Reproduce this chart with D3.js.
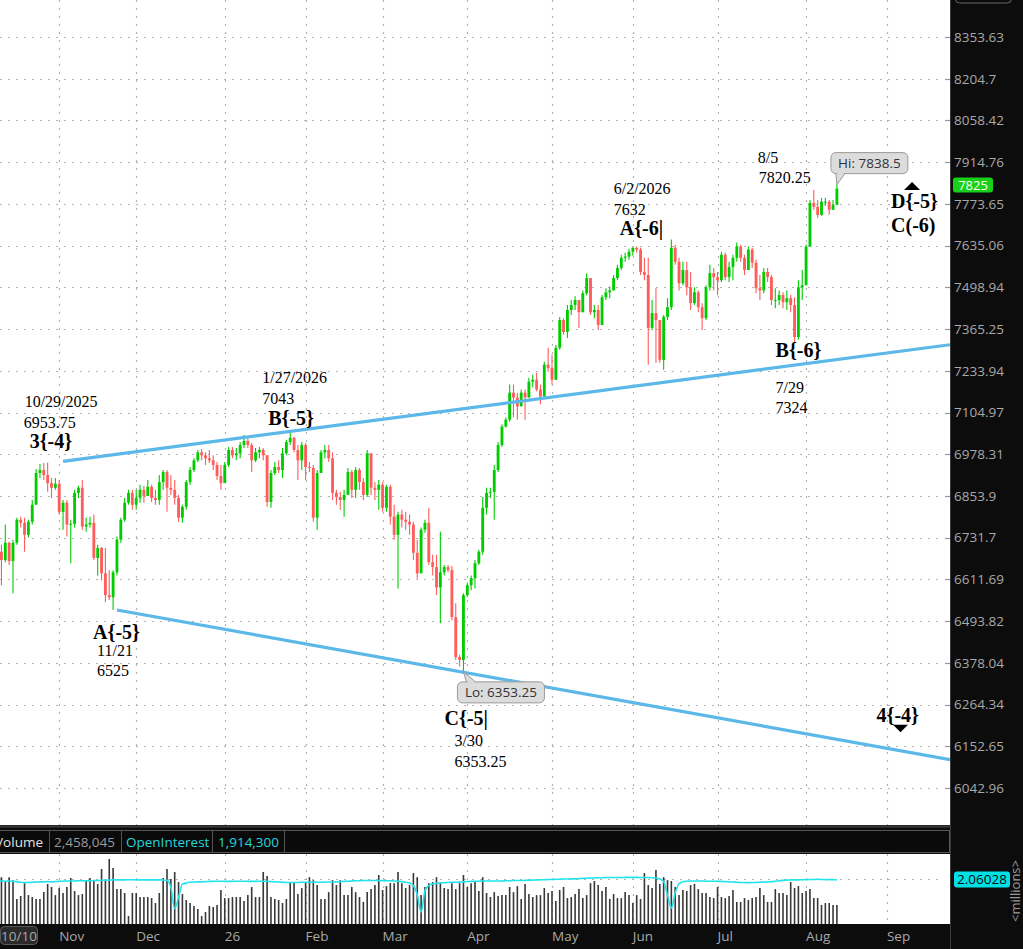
<!DOCTYPE html>
<html>
<head>
<meta charset="utf-8">
<script src="https://cdn.jsdelivr.net/npm/d3@7"></script>
<style>
  html, body { margin: 0; padding: 0; background: #0c0c0c; overflow: hidden; }
  svg { display: block; }
</style>
</head>
<body>
<svg id="chart"></svg>
<script>
const width = 1023;
const height = 949;

// ---- data -------------------------------------------------------------
const firstDay = "2025-10-10";
const lastAxisDay = "2026-09-23";
const closedDays = ["2026-01-01"];

const opens = [
  6632, 6691, 6667, 6717, 6664, 6717, 6784, 6775, 6740, 6778,
  6828, 6922, 6931, 6916, 6892, 6878, 6890, 6807, 6834, 6770,
  6772, 6863, 6878, 6764, 6770, 6775, 6673, 6702, 6629, 6567,
  6561, 6632, 6726, 6784, 6834, 6863, 6828, 6848, 6872, 6854,
  6881, 6848, 6842, 6895, 6925, 6878, 6872, 6848, 6790, 6822,
  6895, 6931, 6960, 6984, 6975, 6966, 6960, 6946, 6913, 6892,
  6946, 6991, 6975, 6981, 7006, 7018, 7006, 6960, 6984, 6991,
  6975, 6836, 6922, 6940, 6931, 6981, 7015, 7028, 6991, 6960,
  7006, 6940, 6937, 6790, 6922, 6984, 6991, 6966, 6863, 6851,
  6842, 6857, 6925, 6872, 6931, 6895, 6857, 6981, 6878, 6872,
  6887, 6819, 6881, 6793, 6740, 6799, 6784, 6778, 6770, 6688,
  6629, 6755, 6775, 6661, 6647, 6589, 6632, 6647, 6638, 6505,
  6394, 6386, 6567, 6595, 6615, 6658, 6691, 6819, 6863, 6866,
  6931, 7006, 7062, 7083, 7166, 7151, 7124, 7166, 7151, 7200,
  7206, 7176, 7154, 7253, 7243, 7206, 7306, 7394, 7356, 7426,
  7442, 7458, 7419, 7480, 7529, 7419, 7426, 7378, 7467, 7483,
  7489, 7529, 7562, 7595, 7599, 7615, 7628, 7622, 7549, 7539,
  7369, 7416, 7394, 7268, 7404, 7435, 7628, 7582, 7512, 7555,
  7499, 7448, 7483, 7435, 7400, 7499, 7545, 7532, 7522, 7605,
  7532, 7565, 7595, 7632, 7595, 7555, 7622, 7579, 7496, 7489,
  7549, 7532, 7458, 7458, 7474, 7451, 7464, 7442, 7340, 7499,
  7506, 7632, 7777, 7764, 7737, 7781, 7781, 7754, 7770
];
const highs = [
  6702, 6711, 6770, 6720, 6726, 6790, 6793, 6790, 6784, 6842,
  6934, 6949, 6952, 6953.75, 6907, 6907, 6901, 6842, 6842, 6784,
  6872, 6884, 6901, 6790, 6793, 6799, 6711, 6705, 6702, 6638,
  6638, 6735, 6790, 6848, 6872, 6872, 6872, 6887, 6884, 6901,
  6887, 6872, 6916, 6931, 6931, 6916, 6901, 6857, 6828, 6901,
  6940, 6966, 6991, 6994, 6984, 6991, 6975, 6955, 6946, 6955,
  7000, 7000, 6997, 7015, 7037, 7031, 7012, 6997, 7000, 6997,
  6975, 6931, 6955, 6960, 6997, 7022, 7043, 7031, 7006, 7015,
  7012, 6955, 6946, 6931, 6991, 7006, 7006, 6984, 6872, 6866,
  6872, 6937, 6931, 6940, 6937, 6907, 6991, 6975, 6895, 6901,
  6895, 6887, 6887, 6828, 6807, 6813, 6807, 6799, 6778, 6726,
  6761, 6784, 6819, 6682, 6682, 6749, 6653, 6653, 6650, 6544,
  6400, 6572, 6603, 6623, 6667, 6697, 6851, 6878, 6878, 6946,
  7015, 7068, 7090, 7191, 7191, 7166, 7176, 7176, 7212, 7222,
  7228, 7191, 7262, 7306, 7284, 7315, 7404, 7400, 7442, 7458,
  7470, 7448, 7489, 7545, 7529, 7442, 7442, 7474, 7496, 7502,
  7539, 7572, 7605, 7612, 7625, 7630, 7632, 7628, 7595, 7595,
  7458, 7496, 7394, 7410, 7464, 7655, 7638, 7595, 7582, 7582,
  7549, 7499, 7489, 7448, 7506, 7572, 7562, 7549, 7615, 7612,
  7582, 7605, 7645, 7638, 7605, 7632, 7628, 7589, 7539, 7562,
  7562, 7539, 7496, 7489, 7483, 7489, 7474, 7467, 7522, 7555,
  7638, 7787, 7820.25, 7787, 7794, 7794, 7787, 7787, 7838.5
];
const lows = [
  6623, 6595, 6661, 6653, 6572, 6711, 6761, 6691, 6732, 6770,
  6866, 6907, 6901, 6866, 6848, 6872, 6799, 6755, 6735, 6658,
  6761, 6848, 6755, 6749, 6761, 6667, 6623, 6609, 6547, 6553,
  6525, 6623, 6717, 6778, 6828, 6813, 6813, 6834, 6834, 6857,
  6836, 6828, 6828, 6872, 6807, 6857, 6828, 6778, 6775, 6813,
  6887, 6925, 6955, 6960, 6946, 6952, 6931, 6901, 6872, 6901,
  6940, 6966, 6960, 6966, 6997, 6997, 6925, 6955, 6966, 6960,
  6822, 6819, 6916, 6922, 6907, 6975, 7006, 6984, 6901, 6931,
  6901, 6925, 6778, 6755, 6955, 6966, 6955, 6842, 6828, 6813,
  6793, 6857, 6848, 6848, 6872, 6842, 6851, 6857, 6842, 6813,
  6807, 6807, 6770, 6726, 6586, 6761, 6755, 6740, 6667, 6614,
  6653, 6746, 6653, 6623, 6567, 6488, 6623, 6632, 6496, 6386,
  6368, 6353.25, 6561, 6581, 6586, 6653, 6682, 6799, 6848, 6784,
  6925, 7000, 7059, 7077, 7090, 7083, 7139, 7083, 7151, 7182,
  7170, 7130, 7151, 7231, 7191, 7222, 7300, 7347, 7337, 7410,
  7426, 7369, 7419, 7473, 7410, 7400, 7362, 7378, 7458, 7464,
  7489, 7522, 7555, 7582, 7589, 7602, 7612, 7539, 7522, 7253,
  7362, 7259, 7259, 7237, 7394, 7426, 7572, 7489, 7506, 7473,
  7426, 7442, 7419, 7362, 7394, 7489, 7489, 7473, 7516, 7522,
  7516, 7522, 7582, 7582, 7539, 7572, 7562, 7480, 7458, 7480,
  7516, 7442, 7432, 7442, 7432, 7426, 7419, 7324, 7331, 7458,
  7549, 7632, 7754, 7727, 7734, 7767, 7737, 7754, 7770
];
const closes = [
  6691, 6667, 6717, 6664, 6717, 6784, 6775, 6740, 6778, 6828,
  6922, 6931, 6916, 6892, 6878, 6890, 6807, 6834, 6770, 6772,
  6863, 6878, 6764, 6770, 6775, 6673, 6702, 6629, 6567, 6561,
  6632, 6726, 6784, 6834, 6863, 6828, 6848, 6872, 6854, 6881,
  6848, 6842, 6895, 6925, 6878, 6872, 6848, 6790, 6822, 6895,
  6931, 6960, 6984, 6975, 6966, 6960, 6946, 6913, 6892, 6946,
  6991, 6975, 6981, 7006, 7018, 7006, 6960, 6984, 6991, 6975,
  6836, 6922, 6940, 6931, 6981, 7015, 7028, 6991, 6960, 7006,
  6940, 6937, 6790, 6922, 6984, 6991, 6966, 6863, 6851, 6842,
  6857, 6925, 6872, 6931, 6895, 6857, 6981, 6878, 6872, 6887,
  6819, 6881, 6793, 6740, 6799, 6784, 6778, 6770, 6688, 6629,
  6755, 6775, 6661, 6647, 6589, 6632, 6647, 6638, 6505, 6394,
  6386, 6567, 6595, 6615, 6658, 6691, 6819, 6863, 6866, 6931,
  7006, 7062, 7083, 7166, 7151, 7124, 7166, 7151, 7200, 7206,
  7176, 7154, 7253, 7243, 7206, 7306, 7394, 7356, 7426, 7442,
  7458, 7419, 7480, 7529, 7419, 7426, 7378, 7467, 7483, 7489,
  7529, 7562, 7595, 7599, 7615, 7628, 7622, 7549, 7539, 7369,
  7416, 7394, 7268, 7404, 7435, 7628, 7582, 7512, 7555, 7499,
  7448, 7483, 7435, 7400, 7499, 7545, 7532, 7522, 7605, 7532,
  7565, 7595, 7632, 7595, 7555, 7622, 7579, 7496, 7489, 7549,
  7532, 7458, 7458, 7474, 7451, 7464, 7442, 7340, 7499, 7506,
  7632, 7777, 7764, 7737, 7781, 7781, 7754, 7770, 7825
];
// volume and open interest, millions of contracts
const volumes = [
  1.77, 2.19, 1.96, 2.19, 2.05, 1.17, 1.31, 1.91, 1.35, 1.26,
  1.17, 1.17, 1.49, 1.87, 1.73, 1.35, 1.68, 1.45, 1.73, 2.15,
  1.54, 1.35, 1.40, 2.05, 2.15, 2.01, 1.87, 2.57, 2.05, 3.04,
  2.62, 1.63, 1.63, 1.45, 0.37, 1.45, 1.45, 1.26, 1.26, 1.26,
  1.21, 0.98, 1.45, 2.15, 2.57, 2.10, 2.43, 1.96, 1.40, 1.12,
  0.98, 0.84, 0.70, 0.37, 0.56, 0.84, 0.79, 0.89, 1.59, 1.21,
  1.21, 1.26, 1.26, 1.26, 1.07, 1.35, 1.73, 1.26, 1.26, 2.43,
  2.24, 1.26, 1.17, 1.12, 0.98, 1.17, 1.96, 1.96, 1.40, 1.68,
  1.96, 2.19, 2.05, 1.82, 1.17, 1.17, 1.49, 2.05, 1.82, 2.05,
  1.35, 1.35, 1.73, 1.49, 1.26, 1.03, 1.49, 1.63, 1.82, 2.29,
  1.59, 1.77, 1.91, 1.91, 2.43, 1.91, 1.68, 1.82, 2.38, 2.19,
  1.35, 1.73, 1.91, 1.96, 2.19, 1.96, 1.68, 1.63, 1.91, 1.63,
  1.91, 2.29, 1.73, 1.91, 1.96, 1.54, 2.19, 1.45, 1.26, 1.49,
  1.31, 1.35, 1.35, 1.73, 1.49, 1.77, 1.17, 1.87, 1.40, 1.26,
  1.35, 1.35, 1.68, 1.45, 1.54, 1.07, 1.59, 1.73, 1.21, 1.26,
  1.40, 1.63, 1.21, 1.35, 1.91, 2.01, 1.82, 1.54, 1.73, 1.17,
  1.40, 1.21, 1.21, 1.49, 1.35, 0.98, 1.35, 1.17, 2.38, 1.82,
  1.68, 2.52, 1.87, 2.19, 2.05, 2.01, 1.73, 1.35, 1.59, 1.54,
  1.82, 1.87, 1.63, 1.45, 1.45, 1.26, 1.21, 1.73, 1.26, 1.21,
  1.31, 1.59, 1.03, 1.03, 1.21, 1.12, 1.21, 1.26, 1.68, 1.35,
  1.03, 1.03, 1.63, 1.45, 1.45, 1.35, 1.96, 1.68, 1.77, 1.45,
  1.54, 1.63, 1.21, 1.21, 0.89, 0.98, 0.98, 0.89, 0.89
];
const openInterest = [
  2.01, 2.01, 2.00, 2.01, 1.99, 1.98, 1.95, 1.94, 1.94, 1.95,
  1.96, 1.97, 1.97, 1.98, 1.97, 1.98, 1.99, 2.00, 2.01, 2.01,
  2.01, 2.02, 2.02, 2.01, 2.02, 2.03, 2.03, 2.04, 2.05, 2.05,
  2.06, 2.06, 2.06, 2.06, 2.07, 2.07, 2.06, 2.06, 2.06, 2.06,
  2.06, 2.06, 2.06, 2.05, 2.04, 1.72, 0.72, 1.25, 1.86, 1.92,
  1.95, 1.96, 1.97, 1.97, 1.98, 1.99, 1.99, 2.00, 2.00, 1.99,
  1.99, 1.99, 2.00, 2.00, 2.00, 1.99, 1.99, 1.99, 2.00, 2.00,
  2.00, 1.98, 1.97, 1.96, 1.95, 1.94, 1.94, 1.94, 1.94, 1.95,
  1.95, 1.95, 1.96, 1.95, 1.95, 1.96, 1.96, 1.96, 1.97, 1.98,
  1.99, 2.00, 2.01, 2.02, 2.02, 2.03, 2.03, 2.03, 2.03, 2.03,
  2.02, 2.02, 2.02, 2.01, 2.00, 1.98, 1.95, 1.92, 1.80, 1.38,
  0.56, 1.55, 1.80, 1.88, 1.90, 1.92, 1.93, 1.94, 1.95, 1.95,
  1.96, 1.97, 1.98, 1.99, 2.00, 2.00, 2.01, 2.01, 2.01, 2.01,
  2.01, 2.01, 2.02, 2.02, 2.03, 2.03, 2.03, 2.04, 2.05, 2.05,
  2.06, 2.07, 2.07, 2.08, 2.08, 2.09, 2.09, 2.10, 2.10, 2.11,
  2.11, 2.12, 2.13, 2.14, 2.15, 2.15, 2.16, 2.16, 2.17, 2.17,
  2.17, 2.17, 2.17, 2.18, 2.18, 2.18, 2.18, 2.17, 2.17, 2.17,
  2.16, 2.14, 2.10, 1.98, 1.35, 0.75, 1.45, 1.88, 1.97, 2.00,
  2.01, 2.01, 2.01, 2.01, 2.00, 2.00, 2.00, 1.99, 1.99, 1.98,
  1.97, 1.96, 1.95, 1.94, 1.94, 1.93, 1.94, 1.94, 1.95, 1.96,
  1.97, 1.98, 2.00, 2.02, 2.04, 2.05, 2.06, 2.06, 2.06, 2.07,
  2.07, 2.08, 2.08, 2.09, 2.08, 2.07, 2.08, 2.07, 2.06028
];

const priceTicks = [8353.63, 8204.7, 8058.42, 7914.76, 7773.65, 7635.06, 7498.94,
  7365.25, 7233.94, 7104.97, 6978.31, 6853.9, 6731.7, 6611.69, 6493.82, 6378.04,
  6264.34, 6152.65, 6042.96];
const monthTicks = ["2025-11-03", "2025-12-01", "2026-01-02", "2026-02-02", "2026-03-02",
  "2026-04-01", "2026-05-01", "2026-06-01", "2026-07-01", "2026-08-03", "2026-09-01"];
const monthLabels = ["Nov", "Dec", "26", "Feb", "Mar", "Apr", "May", "Jun", "Jul", "Aug", "Sep"];
const volumeGrid = [2.1];

const trendLines = [
  { from: ["2025-11-04", 6957], to: ["2026-09-23", 7315] },
  { from: ["2025-11-24", 6525], to: ["2026-09-23", 6118] }
];

const waveNotes = [
  { date: "2025-10-29", price: 6953.75, text: ["10/29/2025", "6953.75", "3{-4}"] },
  { date: "2025-11-21", price: 6525, text: ["A{-5}", "11/21", "6525"] },
  { date: "2026-01-27", price: 7043, text: ["1/27/2026", "7043", "B{-5}"] },
  { date: "2026-03-30", price: 6353.25, text: ["C{-5|", "3/30", "6353.25"] },
  { date: "2026-06-02", price: 7632, text: ["6/2/2026", "7632", "A{-6|"] },
  { date: "2026-07-29", price: 7324, text: ["B{-6}", "7/29", "7324"] },
  { date: "2026-08-05", price: 7820.25, text: ["8/5", "7820.25"] },
  { date: "2026-09-09", price: 7790, text: ["D{-5}", "C(-6)"] },
  { date: "2026-09-04", price: 6210, text: ["4{-4}"] }
];
const headerVolume = "2,458,045";
const headerOpenInterest = "1,914,300";

// ---- layout -------------------------------------------------------------
const plotRight = 950;
const mainBottom = 825;
const headTop = 830, headBottom = 853;
const volTop = 854, volBottom = 924;
const axisTop = 925;
const step = 3.85;
const firstCenter = -2.4;

const upColor = "#00cc00";
const downColor = "#ff5c5c";
const trendColor = "#5bb8e8";
const gridColor = "#b3b3b3";
const axisText = "#a9a9a9";
const sans = "'Open Sans', 'DejaVu Sans', sans-serif";
const serif = "'Liberation Serif', 'DejaVu Serif', serif";

// trading days: weekdays minus closed days
const fmt = d3.utcFormat("%Y-%m-%d");
const axisDays = d3.utcDays(new Date(firstDay), d3.utcDay.offset(new Date(lastAxisDay), 1))
  .filter(d => d.getUTCDay() % 6 !== 0)
  .map(fmt)
  .filter(s => !closedDays.includes(s));
const barDays = axisDays.slice(0, closes.length);

const xStart = firstCenter - step / 2;
const x = d3.scaleBand()
  .domain(axisDays)
  .range([xStart, xStart + axisDays.length * step])
  .paddingInner(0.26)
  .paddingOuter(0.13);
const cx = d => x(d) + x.bandwidth() / 2;

const y = d3.scaleLog().domain([6042.96, 8353.63]).range([788, 37]);
const yVol = d3.scaleLinear().domain([0, 3.2]).range([volBottom, volBottom - 3.2 * 21.4]);

const svg = d3.select("#chart").attr("width", width).attr("height", height);

// backgrounds
svg.append("rect").attr("width", width).attr("height", height).attr("fill", "#0c0c0c");
svg.append("rect").attr("x", 0).attr("y", 0).attr("width", plotRight).attr("height", mainBottom).attr("fill", "#fff");
svg.append("rect").attr("x", 0).attr("y", volTop).attr("width", plotRight).attr("height", volBottom - volTop).attr("fill", "#fff");

const defs = svg.append("defs");
defs.append("clipPath").attr("id", "mainClip")
  .append("rect").attr("x", 0).attr("y", 0).attr("width", plotRight).attr("height", mainBottom);
defs.append("clipPath").attr("id", "volClip")
  .append("rect").attr("x", 0).attr("y", volTop).attr("width", plotRight).attr("height", volBottom - volTop);

// grid
const grid = svg.append("g").attr("stroke", gridColor).attr("stroke-width", 1.2).attr("stroke-dasharray", "2,6");
grid.selectAll(".hgrid").data(priceTicks).join("line")
  .attr("x1", 0).attr("x2", plotRight - 6)
  .attr("y1", d => Math.round(y(d)) + 0.5).attr("y2", d => Math.round(y(d)) + 0.5);
grid.selectAll(".vgrid").data(monthTicks).join("line")
  .attr("x1", d => Math.round(cx(d)) + 0.5).attr("x2", d => Math.round(cx(d)) + 0.5)
  .attr("y1", 0).attr("y2", mainBottom);
grid.selectAll(".vgrid2").data(monthTicks).join("line")
  .attr("x1", d => Math.round(cx(d)) + 0.5).attr("x2", d => Math.round(cx(d)) + 0.5)
  .attr("y1", volTop).attr("y2", volBottom);
grid.selectAll(".volgrid").data(volumeGrid).join("line")
  .attr("x1", 0).attr("x2", plotRight - 6)
  .attr("y1", d => Math.round(yVol(d)) + 0.5).attr("y2", d => Math.round(yVol(d)) + 0.5);
// short tick marks at the right edge
svg.append("g").selectAll("line").data(priceTicks).join("line")
  .attr("x1", plotRight - 5).attr("x2", plotRight)
  .attr("y1", d => Math.round(y(d)) + 0.5).attr("y2", d => Math.round(y(d)) + 0.5)
  .attr("stroke", "#999").attr("stroke-width", 1.2);

// candles
const bars = d3.range(closes.length);
const candles = svg.append("g").attr("clip-path", "url(#mainClip)");
const colorOf = i => closes[i] >= opens[i] ? upColor : downColor;
candles.selectAll(".wick").data(bars).join("line")
  .attr("x1", i => cx(barDays[i])).attr("x2", i => cx(barDays[i]))
  .attr("y1", i => y(Math.max(highs[i], opens[i], closes[i])))
  .attr("y2", i => y(Math.min(lows[i], opens[i], closes[i])))
  .attr("stroke", colorOf).attr("stroke-width", 1.1);
candles.selectAll(".body").data(bars).join("rect")
  .attr("x", i => x(barDays[i]))
  .attr("width", x.bandwidth())
  .attr("y", i => y(Math.max(opens[i], closes[i])))
  .attr("height", i => Math.max(1, y(Math.min(opens[i], closes[i])) - y(Math.max(opens[i], closes[i]))))
  .attr("fill", colorOf);

// trend lines, extended to the right edge of the plot
const trendG = svg.append("g").attr("clip-path", "url(#mainClip)");
trendLines.forEach(t => {
  const x1 = cx(t.from[0]), y1 = y(t.from[1]);
  const x2 = cx(t.to[0]), y2 = y(t.to[1]);
  const slope = (y2 - y1) / (x2 - x1);
  trendG.append("line")
    .attr("x1", x1).attr("y1", y1)
    .attr("x2", plotRight).attr("y2", y1 + slope * (plotRight - x1))
    .attr("stroke", trendColor).attr("stroke-width", 3.2).attr("stroke-linecap", "butt");
});

// wave annotations: per note, line offsets [dx, dy, bold]
const noteLayout = [
  [[-23, -55, 0], [-24, -34, 0], [-18, -14, 1]],
  [[-20, 29, 1], [-16, 46, 0], [-16, 66, 0]],
  [[-28, -50, 0], [-28, -29, 0], [-22, -8, 1]],
  [[-15, 53, 1], [-5, 74, 0], [-5, 95, 0]],
  [[-23, -53, 0], [-23, -32, 0], [-17, -12, 1]],
  [[-19, 15, 1], [-19, 51, 0], [-19, 71, 0]],
  [[-56, -27, 0], [-55, -7, 0]],
  [[-19, 9, 1], [-19, 33, 1]],
  [[-22, -3, 1]]
];
const notes = svg.append("g").attr("clip-path", "url(#mainClip)");
waveNotes.forEach((n, k) => {
  const ax = cx(n.date), ay = y(n.price);
  n.text.forEach((t, j) => {
    const [dx, dy, bold] = noteLayout[k][j];
    notes.append("text")
      .attr("x", ax + dx).attr("y", ay + dy)
      .attr("font-family", serif)
      .attr("font-size", bold ? 20 : 16)
      .attr("font-weight", bold ? "bold" : "normal")
      .attr("fill", "#000")
      .text(t);
  });
});
// projection markers
const upNote = waveNotes[7], downNote = waveNotes[8];
{
  const ax = cx(upNote.date), ay = y(upNote.price);
  notes.append("path")
    .attr("d", `M${ax + 2},${ay - 17} L${ax + 10},${ay - 9} L${ax - 6},${ay - 9} Z`)
    .attr("fill", "#000");
  const bx = cx(downNote.date), by = y(downNote.price);
  notes.append("path")
    .attr("d", `M${bx - 5.5},${by} L${bx + 9.5},${by} L${bx + 2},${by + 7.5} Z`)
    .attr("fill", "#000");
}

// Hi / Lo callouts from the data
function callout(g, px, py, label, boxX, boxY, boxW, boxH, baseA, baseB) {
  g.append("path")
    .attr("d", `M${px},${py} L${baseA[0]},${baseA[1]} L${baseB[0]},${baseB[1]} Z`)
    .attr("fill", "#dcdcdc").attr("stroke", "#999").attr("stroke-width", 1);
  g.append("rect")
    .attr("x", boxX).attr("y", boxY).attr("width", boxW).attr("height", boxH)
    .attr("rx", 5).attr("fill", "#dcdcdc").attr("stroke", "#999").attr("stroke-width", 1);
  g.append("path")
    .attr("d", `M${baseA[0] + 1},${baseA[1]} L${baseB[0] - 1},${baseB[1]}`)
    .attr("stroke", "#dcdcdc").attr("stroke-width", 2);
  g.append("text")
    .attr("x", boxX + boxW / 2).attr("y", boxY + boxH / 2 + 5)
    .attr("text-anchor", "middle")
    .attr("font-family", sans).attr("font-size", 13.5).attr("fill", "#333")
    .text(label);
}
const hiIdx = d3.maxIndex(highs);
const loIdx = d3.minIndex(lows);
const callouts = svg.append("g").attr("clip-path", "url(#mainClip)");
{
  const hx = cx(barDays[hiIdx]), hy = y(highs[hiIdx]);
  callout(callouts, hx, hy, "Hi: " + highs[hiIdx],
    hx - 6, hy - 32, 77, 21, [hx - 1, hy - 11], [hx + 8, hy - 11]);
  const lx = cx(barDays[loIdx]), ly = y(lows[loIdx]);
  callout(callouts, lx, ly, "Lo: " + lows[loIdx],
    lx - 6, ly + 10, 87, 21, [lx + 3, ly + 10], [lx + 12, ly + 10]);
}

// ---- chrome between panes ---------------------------------------------
svg.append("rect").attr("x", 0).attr("y", mainBottom).attr("width", plotRight).attr("height", volTop - mainBottom).attr("fill", "#0c0c0c");
svg.append("line").attr("x1", 0).attr("x2", plotRight).attr("y1", mainBottom + 1.5).attr("y2", mainBottom + 1.5)
  .attr("stroke", "#3c3c3c").attr("stroke-width", 2);
svg.append("rect").attr("x", -2).attr("y", headTop + 0.5).attr("width", plotRight + 1.5).attr("height", headBottom - headTop - 1)
  .attr("fill", "#0a0a0a").attr("stroke", "#555");
const cells = [
  { x: 43, anchor: "end", text: "Volume", color: "#e2e2e2", sep: 49 },
  { x: 54, anchor: "start", text: headerVolume, color: "#9b9b9b", sep: 121 },
  { x: 126, anchor: "start", text: "OpenInterest", color: "#27d5dc", sep: 212 },
  { x: 218, anchor: "start", text: headerOpenInterest, color: "#27d5dc", sep: 284 }
];
const head = svg.append("g");
head.selectAll("line").data(cells).join("line")
  .attr("x1", d => d.sep + 0.5).attr("x2", d => d.sep + 0.5)
  .attr("y1", headTop + 1).attr("y2", headBottom - 1)
  .attr("stroke", "#555");
head.selectAll("text").data(cells).join("text")
  .attr("x", d => d.x).attr("y", headBottom - 6.5)
  .attr("text-anchor", d => d.anchor)
  .attr("font-family", sans).attr("font-size", 13.5)
  .attr("fill", d => d.color)
  .text(d => d.text);

// ---- volume pane --------------------------------------------------------
const volG = svg.append("g").attr("clip-path", "url(#volClip)");
volG.selectAll("line").data(bars).join("line")
  .attr("x1", i => cx(barDays[i])).attr("x2", i => cx(barDays[i]))
  .attr("y1", yVol(0)).attr("y2", i => yVol(volumes[i]))
  .attr("stroke", "#383838").attr("stroke-width", 1.6);
volG.append("path")
  .datum(bars)
  .attr("fill", "none").attr("stroke", "#22e4ec").attr("stroke-width", 1.6)
  .attr("d", d3.line().x(i => cx(barDays[i])).y(i => yVol(openInterest[i])).curve(d3.curveMonotoneX));

// ---- axes -----------------------------------------------------------------
const priceAxis = d3.axisRight(y).tickValues(priceTicks).tickSize(0).tickPadding(4).tickFormat(d => String(d));
const pa = svg.append("g").attr("transform", `translate(${plotRight},0)`).call(priceAxis);
pa.select(".domain").attr("stroke", "#3a3a3a");
pa.selectAll("text").attr("font-family", sans).attr("font-size", 13.5).attr("fill", axisText);

const timeAxis = d3.axisBottom(x).tickValues(monthTicks).tickSize(0).tickPadding(0)
  .tickFormat((d, i) => monthLabels[i]);
const ta = svg.append("g").attr("transform", `translate(0,${axisTop})`).call(timeAxis);
ta.select(".domain").remove();
ta.selectAll("text")
  .attr("text-anchor", "start").attr("dy", null).attr("y", 15.5)
  .attr("font-family", sans).attr("font-size", 13.5).attr("fill", axisText);
svg.append("line").attr("x1", plotRight + 0.5).attr("x2", plotRight + 0.5).attr("y1", 0).attr("y2", height)
  .attr("stroke", "#3a3a3a");

// first-date box
svg.append("rect").attr("x", 0.5).attr("y", 926.5).attr("width", 37).attr("height", 18).attr("rx", 4)
  .attr("fill", "#2a2a2a").attr("stroke", "#5a5a5a");
svg.append("text").attr("x", 19).attr("y", 940.5).attr("text-anchor", "middle")
  .attr("font-family", sans).attr("font-size", 13.5).attr("fill", axisText)
  .text(d3.utcFormat("%m/%d")(new Date(firstDay)));

// last price tag, nudged up a little so it clears the 7773.65 label
const lastIdx = closes.length - 1;
const tagY = y(closes[lastIdx]) - 3;
svg.append("rect").attr("x", 953).attr("y", tagY - 8).attr("width", 40).attr("height", 15).attr("rx", 3)
  .attr("fill", "#19cf19");
svg.append("text").attr("x", 973).attr("y", tagY + 4.5).attr("text-anchor", "middle")
  .attr("font-family", sans).attr("font-size", 13).attr("fill", "#f4fff4")
  .text(String(closes[lastIdx]));

// partial box at the very top of the price axis
svg.append("rect").attr("x", 955.5).attr("y", -14).attr("width", 56).attr("height", 17).attr("rx", 4)
  .attr("fill", "none").attr("stroke", "#666");

// open interest tag + unit label
const oiLast = openInterest[lastIdx];
svg.append("rect").attr("x", 954).attr("y", yVol(oiLast) - 8.5).attr("width", 56).attr("height", 16).attr("rx", 3)
  .attr("fill", "#00e1e6");
svg.append("text").attr("x", 982).attr("y", yVol(oiLast) + 4.5).attr("text-anchor", "middle")
  .attr("font-family", sans).attr("font-size", 13.5).attr("fill", "#0a0a0a")
  .text(String(oiLast));
svg.append("text")
  .attr("transform", `translate(1020,${(volTop + volBottom) / 2 + 2}) rotate(-90)`)
  .attr("text-anchor", "middle")
  .attr("font-family", sans).attr("font-size", 13).attr("fill", "#9a9a9a")
  .text("<millions>");
</script>
</body>
</html>
